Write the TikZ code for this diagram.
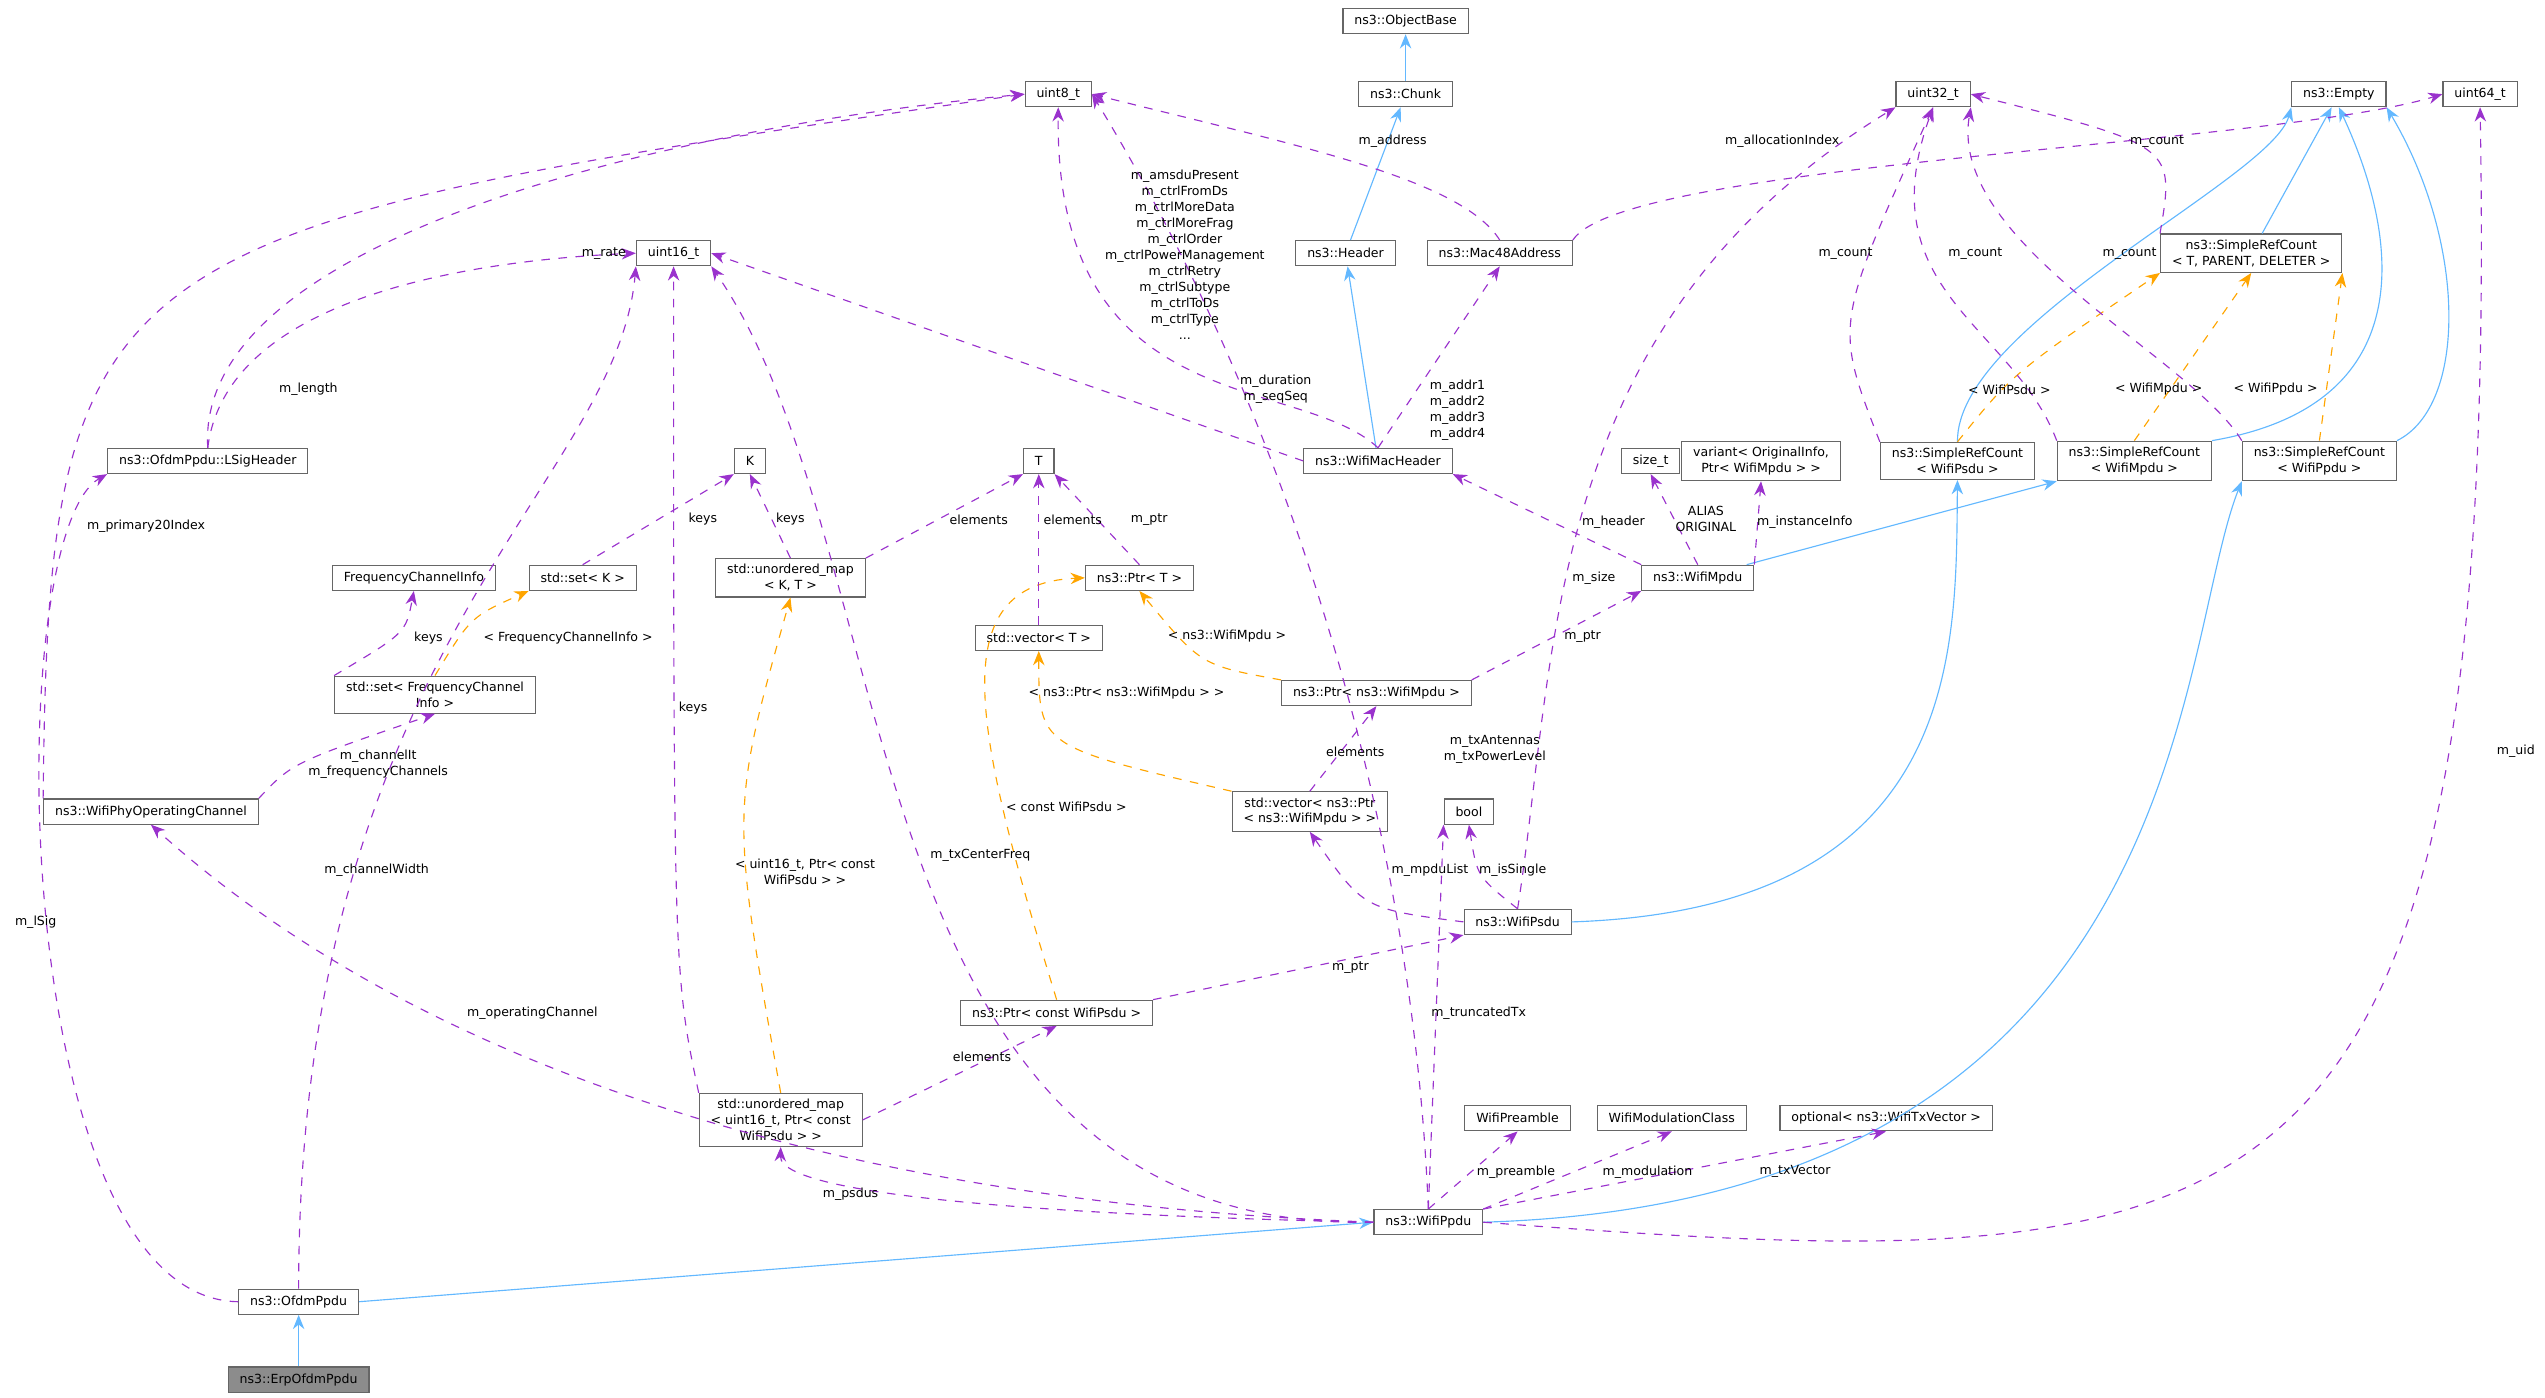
\documentclass[tikz,border=0pt]{standalone}
\usepackage{fontspec}
\setmainfont{DejaVu Sans}
\usepackage{tikz}
\usetikzlibrary{arrows.meta}
\definecolor{usecol}{HTML}{9A32CD}
\definecolor{inhcol}{HTML}{63B8FF}
\definecolor{tplcol}{HTML}{FFA500}
\tikzset{
  cls/.style={draw=black!60, fill=white, font=\fontsize{4.4}{5.6}\selectfont, align=center, inner xsep=4pt, inner ysep=2pt, minimum height=0.31cm},
  uses/.style={usecol, dashed, -{Stealth[length=5pt,width=4pt]}},
  inh/.style={inhcol, -{Stealth[length=5pt,width=4pt]}},
  tpl/.style={tplcol, dashed, -{Stealth[length=5pt,width=4pt]}},
  lbl/.style={font=\fontsize{4.4}{5.6}\selectfont, align=center, inner sep=0pt}
}
\begin{document}
\begin{tikzpicture}[x=0.02cm, y=-0.02cm]
  \useasboundingbox (0,0) rectangle (1568,861);
  % classes
  \node[cls] (objb) at (866,13) {ns3::ObjectBase};
  \node[cls] (chunk) at (866,58) {ns3::Chunk};
  \node[cls] (u8) at (652,58) {uint8\_t};
  \node[cls] (u32) at (1191,58) {uint32\_t};
  \node[cls] (empty) at (1441,58) {ns3::Empty};
  \node[cls] (u64) at (1528,58) {uint64\_t};
  \node[cls] (u16) at (415,156) {uint16\_t};
  \node[cls] (hdr) at (829,156) {ns3::Header};
  \node[cls] (mac) at (924,156) {ns3::Mac48Address};
  \node[cls] (srct) at (1387,156) {ns3::SimpleRefCount\\< T, PARENT, DELETER >};
  \node[cls] (lsig) at (128,284) {ns3::OfdmPpdu::LSigHeader};
  \node[cls] (tk) at (462,284) {K};
  \node[cls] (tt) at (640,284) {T};
  \node[cls] (wmh) at (849,284) {ns3::WifiMacHeader};
  \node[cls] (sizet) at (1017,284) {size\_t};
  \node[cls] (variant) at (1085,284) {variant< OriginalInfo,\\Ptr< WifiMpdu > >};
  \node[cls] (srcpsdu) at (1206,284) {ns3::SimpleRefCount\\< WifiPsdu >};
  \node[cls] (srcmpdu) at (1315,284) {ns3::SimpleRefCount\\< WifiMpdu >};
  \node[cls] (srcppdu) at (1429,284) {ns3::SimpleRefCount\\< WifiPpdu >};
  \node[cls] (fci) at (255,356) {FrequencyChannelInfo};
  \node[cls] (setk) at (359,356) {std::set< K >};
  \node[cls] (umapkt) at (487,356) {std::unordered\_map\\< K, T >};
  \node[cls] (ptrt) at (702,356) {ns3::Ptr< T >};
  \node[cls] (mpdu) at (1046,356) {ns3::WifiMpdu};
  \node[cls] (vect) at (640,393) {std::vector< T >};
  \node[cls] (setfci) at (268,428) {std::set< FrequencyChannel\\Info >};
  \node[cls] (ptrmpdu) at (848,427) {ns3::Ptr< ns3::WifiMpdu >};
  \node[cls] (woc) at (93,500) {ns3::WifiPhyOperatingChannel};
  \node[cls] (vecmpdu) at (807,500) {std::vector< ns3::Ptr\\< ns3::WifiMpdu > >};
  \node[cls] (bool) at (905,500) {bool};
  \node[cls] (psdu) at (935,568) {ns3::WifiPsdu};
  \node[cls] (ptrpsdu) at (651,624) {ns3::Ptr< const WifiPsdu >};
  \node[cls] (umappsdu) at (481,690) {std::unordered\_map\\< uint16\_t, Ptr< const\\WifiPsdu > >};
  \node[cls] (pre) at (935,689) {WifiPreamble};
  \node[cls] (modc) at (1030,689) {WifiModulationClass};
  \node[cls] (opt) at (1162,689) {optional< ns3::WifiTxVector >};
  \node[cls] (ppdu) at (880,753) {ns3::WifiPpdu};
  \node[cls] (ofdm) at (184,802) {ns3::OfdmPpdu};
  \node[cls, fill=black!45] (erp) at (184,850) {ns3::ErpOfdmPpdu};

  % inheritance
  \draw[inh] (chunk) -- (objb);
  \draw[inh] (hdr) -- (chunk);
  \draw[inh] (wmh) -- (hdr);
  \draw[inh] (srct) -- (empty);
  \draw[inh] (srcpsdu.north) .. controls (1205,200) and (1400,110) .. (empty.south west);
  \draw[inh] (srcmpdu.north east) .. controls (1490,250) and (1480,150) .. (empty.south);
  \draw[inh] (srcppdu.north east) .. controls (1520,250) and (1520,150) .. (empty.south east);
  \draw[inh] (mpdu) -- (srcmpdu.south west);
  \draw[inh] (psdu.east) .. controls (1210,560) and (1205,400) .. (srcpsdu.south);
  \draw[inh] (ppdu.east) .. controls (1350,740) and (1340,400) .. (srcppdu.south west);
  \draw[inh] (ofdm.east) -- (ppdu.west);
  \draw[inh] (erp) -- (ofdm);

  % templates
  \draw[tpl] (srcpsdu.north) .. controls (1240,230) .. (srct.south west);
  \draw[tpl] (srcmpdu.north) -- (srct.south);
  \draw[tpl] (srcppdu.north) -- (srct.south east);
  \draw[tpl] (setfci.north) .. controls (290,380) .. (setk.south west);
  \draw[tpl] (umappsdu.north) .. controls (450,500) .. (umapkt.south);
  \draw[tpl] (ptrpsdu.north) .. controls (600,450) and (580,360) .. (ptrt.west);
  \draw[tpl] (ptrmpdu.north west) .. controls (740,410) .. (ptrt.south);
  \draw[tpl] (vecmpdu.north west) .. controls (640,460) .. (vect.south);

  % usage
  \draw[uses] (lsig.north) .. controls (120,150) and (400,80) .. (u8.west);
  \draw[uses] (lsig.north) .. controls (140,180) and (300,160) .. (u16.west);
  \draw[uses] (woc.north west) .. controls (30,150) and (60,140) .. (u8.west);
  \draw[uses] (ofdm.west) .. controls (5,800) and (0,330) .. (lsig.south west);
  \draw[uses] (ofdm.north) .. controls (184,400) and (380,300) .. (u16.south west);
  \draw[uses] (umappsdu.north west) .. controls (415,600) .. (u16.south);
  \draw[uses] (ppdu.west) .. controls (520,760) and (560,340) .. (u16.south east);
  \draw[uses] (wmh.west) -- (u16.east);
  \draw[uses] (wmh.north) .. controls (800,230) and (650,260) .. (u8.south);
  \draw[uses] (ppdu.north) .. controls (870,500) and (790,250) .. (u8.east);
  \draw[uses] (mac.north) .. controls (900,110) and (800,90) .. (u8.east);
  \draw[uses] (mac.north east) .. controls (1000,100) and (1400,90) .. (u64.west);
  \draw[uses] (wmh.north) -- (mac.south);
  \draw[uses] (psdu.north) .. controls (960,400) and (950,200) .. (u32.south west);
  \draw[uses] (srcpsdu.north west) .. controls (1130,200) .. (u32.south);
  \draw[uses] (srcmpdu.north west) .. controls (1240,200) and (1150,180) .. (u32.south);
  \draw[uses] (srcppdu.north west) .. controls (1350,220) and (1200,150) .. (u32.south east);
  \draw[uses] (srct.north west) .. controls (1340,90) .. (u32.east);
  \draw[uses] (setk.north) -- (tk.south west);
  \draw[uses] (umapkt.north) -- (tk.south);
  \draw[uses] (umapkt.north east) -- (tt.south west);
  \draw[uses] (vect.north) -- (tt.south);
  \draw[uses] (ptrt.north) -- (tt.south east);
  \draw[uses] (setfci.north west) .. controls (250,390) .. (fci.south);
  \draw[uses] (woc.north east) .. controls (180,470) .. (setfci.south);
  \draw[uses] (mpdu.north west) -- (wmh.south east);
  \draw[uses] (mpdu.north) -- (sizet.south);
  \draw[uses] (mpdu.north east) -- (variant.south);
  \draw[uses] (ptrmpdu.north east) -- (mpdu.south west);
  \draw[uses] (vecmpdu.north) -- (ptrmpdu.south);
  \draw[uses] (psdu.west) .. controls (840,560) .. (vecmpdu.south);
  \draw[uses] (psdu.north) .. controls (910,540) .. (bool.south);
  \draw[uses] (ptrpsdu.north east) -- (psdu.south west);
  \draw[uses] (ppdu.north) -- (bool.south west);
  \draw[uses] (umappsdu.east) -- (ptrpsdu.south);
  \draw[uses] (ppdu.west) .. controls (700,750) and (480,740) .. (umappsdu.south);
  \draw[uses] (ppdu.west) .. controls (500,740) and (250,650) .. (woc.south);
  \draw[uses] (ppdu.north) -- (pre.south);
  \draw[uses] (ppdu.north east) -- (modc.south);
  \draw[uses] (ppdu.north east) -- (opt.south);
  \draw[uses] (ppdu.east) .. controls (1400,790) and (1540,780) .. (u64.south);

  % edge labels
  \node[lbl] (lrate) at (372,156) {m\_rate};
  \node[lbl] (llen) at (190,240) {m\_length};
  \node[lbl] (lp20) at (90,324) {m\_primary20Index};
  \node[lbl] (llsig) at (22,568) {m\_lSig};
  \node[lbl] (lcw) at (232,536) {m\_channelWidth};
  \node[lbl] (lkeys1) at (427,436) {keys};
  \node[lbl] (ltcf) at (604,527) {m\_txCenterFreq};
  \node[lbl] (ldur) at (786,240) {m\_duration\\m\_seqSeq};
  \node[lbl] (lams) at (730,157) {m\_amsduPresent\\m\_ctrlFromDs\\m\_ctrlMoreData\\m\_ctrlMoreFrag\\m\_ctrlOrder\\m\_ctrlPowerManagement\\m\_ctrlRetry\\m\_ctrlSubtype\\m\_ctrlToDs\\m\_ctrlType\\...};
  \node[lbl] (lant) at (921,462) {m\_txAntennas\\m\_txPowerLevel};
  \node[lbl] (laddr) at (858,87) {m\_address};
  \node[lbl] (lalloc) at (1098,87) {m\_allocationIndex};
  \node[lbl] (la14) at (898,253) {m\_addr1\\m\_addr2\\m\_addr3\\m\_addr4};
  \node[lbl] (lsize) at (982,356) {m\_size};
  \node[lbl] (lc1) at (1137,156) {m\_count};
  \node[lbl] (lc2) at (1217,156) {m\_count};
  \node[lbl] (lc3) at (1312,156) {m\_count};
  \node[lbl] (lc4) at (1329,87) {m\_count};
  \node[lbl] (lkk1) at (433,320) {keys};
  \node[lbl] (lkk2) at (487,320) {keys};
  \node[lbl] (lel1) at (603,320) {elements};
  \node[lbl] (lel2) at (661,320) {elements};
  \node[lbl] (lptr1) at (708,320) {m\_ptr};
  \node[lbl] (lkeys2) at (264,393) {keys};
  \node[lbl] (lfci) at (350,393) {< FrequencyChannelInfo >};
  \node[lbl] (lchan) at (233,471) {m\_channelIt\\m\_frequencyChannels};
  \node[lbl] (lhdr) at (994,322) {m\_header};
  \node[lbl] (lalias) at (1051,320) {ALIAS\\ORIGINAL};
  \node[lbl] (linst) at (1112,322) {m\_instanceInfo};
  \node[lbl] (lptr2) at (975,392) {m\_ptr};
  \node[lbl] (lpm) at (756,392) {< ns3::WifiMpdu >};
  \node[lbl] (lvm) at (694,427) {< ns3::Ptr< ns3::WifiMpdu > >};
  \node[lbl] (lel3) at (835,463) {elements};
  \node[lbl] (lml) at (881,536) {m\_mpduList};
  \node[lbl] (lsing) at (932,536) {m\_isSingle};
  \node[lbl] (lptr3) at (832,596) {m\_ptr};
  \node[lbl] (lcp) at (657,497) {< const WifiPsdu >};
  \node[lbl] (lu16) at (496,537) {< uint16\_t, Ptr< const\\WifiPsdu > >};
  \node[lbl] (ltrunc) at (911,624) {m\_truncatedTx};
  \node[lbl] (lel4) at (605,651) {elements};
  \node[lbl] (lpsdus) at (524,736) {m\_psdus};
  \node[lbl] (lop) at (328,624) {m\_operatingChannel};
  \node[lbl] (lpre) at (934,722) {m\_preamble};
  \node[lbl] (lmod) at (1015,722) {m\_modulation};
  \node[lbl] (ltxv) at (1106,722) {m\_txVector};
  \node[lbl] (luid) at (1550,463) {m\_uid};
  \node[lbl] (ltp1) at (1238,240) {< WifiPsdu >};
  \node[lbl] (ltp2) at (1330,240) {< WifiMpdu >};
  \node[lbl] (ltp3) at (1402,240) {< WifiPpdu >};
\end{tikzpicture}
\end{document}
